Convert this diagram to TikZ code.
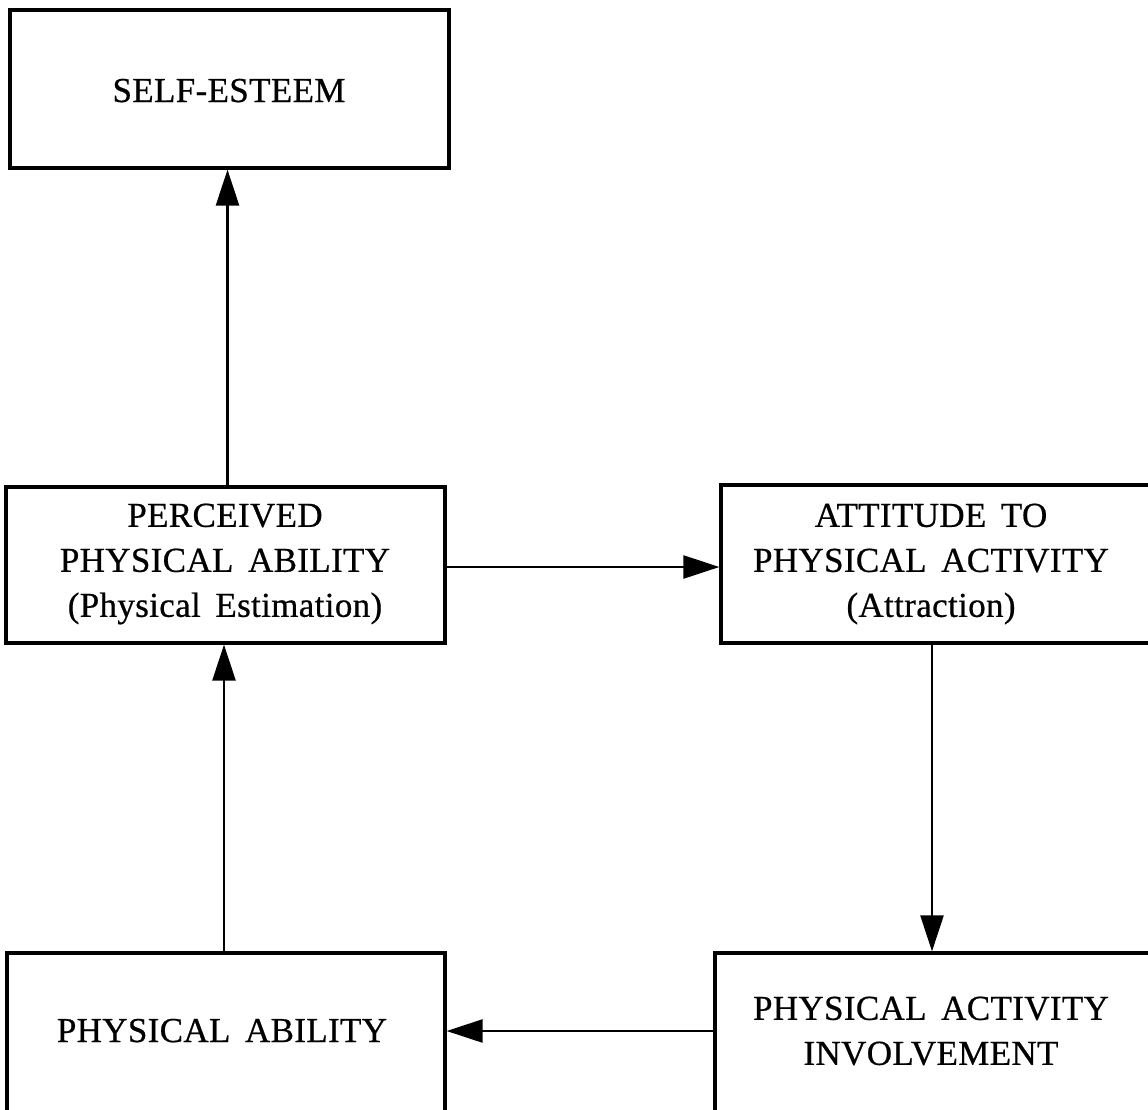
\documentclass[tikz,border=0pt]{standalone}
\usepackage{fontspec}
\setmainfont{Liberation Serif}[LetterSpace=1.0,WordSpace=1.6,FakeBold=0.6]
\usetikzlibrary{arrows.meta}
\begin{document}
\begin{tikzpicture}[x=1pt,y=-1pt,
  box/.style={draw, line width=3.2pt, inner sep=0pt, rectangle},
  lbl/.style={font=\fontsize{35}{45}\selectfont, align=center, inner sep=0pt},
  conn/.style={line width=2.4pt, -{Triangle[length=36pt,width=23pt]}}]
\useasboundingbox (0,0) rectangle (1148,1109);
\clip (0,0) rectangle (1148,1109);
% boxes
\node[box, minimum width=439pt, minimum height=158pt] (se) at (229.5,89) {};
\node[box, minimum width=439pt, minimum height=156pt] (perc) at (225.5,565) {};
\node[box, minimum width=449pt, minimum height=158pt] (att) at (945.5,564) {};
\node[box, minimum width=438pt, minimum height=172pt] (pa) at (226,1039) {};
\node[box, minimum width=455pt, minimum height=172pt] (inv) at (942.5,1039) {};
% texts
\node[lbl, anchor=base] (tse) at (229,102) {SELF-ESTEEM};
\node[lbl] (tperc) at (225,564) {PERCEIVED\\PHYSICAL ABILITY\\(Physical Estimation)};
\node[lbl] (tatt) at (931,564) {ATTITUDE TO\\PHYSICAL ACTIVITY\\(Attraction)};
\node[lbl, anchor=base] (tpa) at (222,1042) {PHYSICAL ABILITY};
\node[lbl] (tinv) at (931,1031) {PHYSICAL ACTIVITY\\INVOLVEMENT};
% connectors
\draw[conn] ([xshift=2pt]perc.north) -- ([xshift=2pt]perc.north |- se.south);
\draw[conn] ([yshift=-2pt]perc.east) -- ([yshift=-2pt]perc.east -| att.west);
\draw[conn] ([xshift=-13.5pt]att.south) -- ([xshift=-13.5pt]att.south |- inv.north);
\draw[conn] ([yshift=8pt]inv.west) -- ([yshift=8pt]inv.west -| pa.east);
\draw[conn] ([xshift=-2pt]pa.north) -- ([xshift=-2pt]pa.north |- perc.south);
\end{tikzpicture}
\end{document}
